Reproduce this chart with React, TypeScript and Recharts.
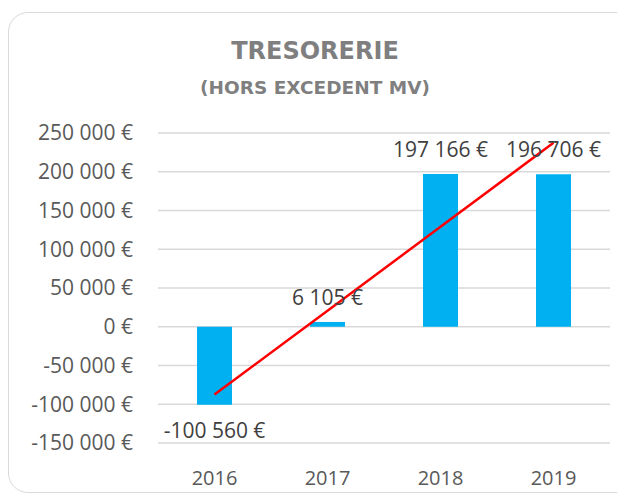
import { Bar, CartesianGrid, ComposedChart, LabelList, Line, XAxis, YAxis } from 'recharts'

const YEARS = ['2016', '2017', '2018', '2019']
const TRESORERIE = [-100560, 6105, 197166, 196706]
// linear trend line as drawn in the sheet
const TREND = [-87575, 20711, 128997, 237283]
const Y_TICKS = [-150000, -100000, -50000, 0, 50000, 100000, 150000, 200000, 250000]

const data = YEARS.map((year, i) => ({ year, value: TRESORERIE[i], trend: TREND[i] }))

const AXIS_FONT = '"Open Sans", sans-serif'
const TITLE_FONT = '"DejaVu Sans", sans-serif'

function euro(v: number) {
  const s = Math.abs(Math.round(v)).toString().replace(/\B(?=(\d{3})+(?!\d))/g, ' ')
  return `${v < 0 ? '-' : ''}${s} €`
}

// outside-end label, like the spreadsheet: above positive bars, below negative ones
function ValueLabel(props: any) {
  const { x, y, width, height, value } = props
  const v = Number(value)
  const top = Math.min(y, y + height)
  const bottom = Math.max(y, y + height)
  const ly = v >= 0 ? top - 17 : bottom + 33
  return (
    <text
      x={x + width / 2}
      y={ly}
      textAnchor="middle"
      fill="#404040"
      fontSize={21}
      fontFamily={AXIS_FONT}
    >
      {euro(v)}
    </text>
  )
}

export default function App() {
  return (
    <div style={{ position: 'relative', width: 617, height: 490, overflow: 'hidden' }}>
      <div
        style={{
          position: 'absolute',
          left: 0,
          top: 4,
          width: 630,
          height: 479,
          border: '1.5px solid #d9d9d9',
          borderRadius: 20,
          background: '#fff',
        }}
      />
      <div
        style={{
          position: 'absolute',
          left: 0,
          width: 614,
          top: 28,
          textAlign: 'center',
          fontFamily: TITLE_FONT,
          fontWeight: 'bold',
          color: '#7f7f7f',
          fontSize: 24,
          lineHeight: '30px',
        }}
      >
        TRESORERIE
      </div>
      <div
        style={{
          position: 'absolute',
          left: 0,
          width: 614,
          top: 68,
          textAlign: 'center',
          fontFamily: TITLE_FONT,
          fontWeight: 'bold',
          color: '#7f7f7f',
          fontSize: 18.5,
          lineHeight: '24px',
        }}
      >
        (HORS EXCEDENT MV)
      </div>
      <div style={{ position: 'absolute', left: 0, top: 0 }}>
        <ComposedChart
          width={617}
          height={490}
          data={data}
          margin={{ top: 125, right: 15, bottom: 25, left: 0 }}
        >
          <CartesianGrid vertical={false} stroke="#d9d9d9" strokeWidth={1.5} />
          <XAxis
            dataKey="year"
            axisLine={false}
            tickLine={false}
            tickSize={0}
            tickMargin={28}
            height={30}
            tick={{ fill: '#595959', fontSize: 20, fontFamily: AXIS_FONT }}
          />
          <YAxis
            width={150}
            domain={[-150000, 250000]}
            ticks={Y_TICKS}
            interval={0}
            axisLine={false}
            tickLine={false}
            tickSize={0}
            tickMargin={25}
            tickFormatter={euro}
            tick={{ fill: '#595959', fontSize: 21, fontFamily: AXIS_FONT }}
          />
          <Bar dataKey="value" fill="#00b0f0" barSize={35} isAnimationActive={false}>
            <LabelList dataKey="value" content={ValueLabel} />
          </Bar>
          <Line
            dataKey="trend"
            type="linear"
            stroke="#ff0000"
            strokeWidth={2.5}
            dot={false}
            activeDot={false}
            isAnimationActive={false}
          />
        </ComposedChart>
      </div>
    </div>
  )
}
